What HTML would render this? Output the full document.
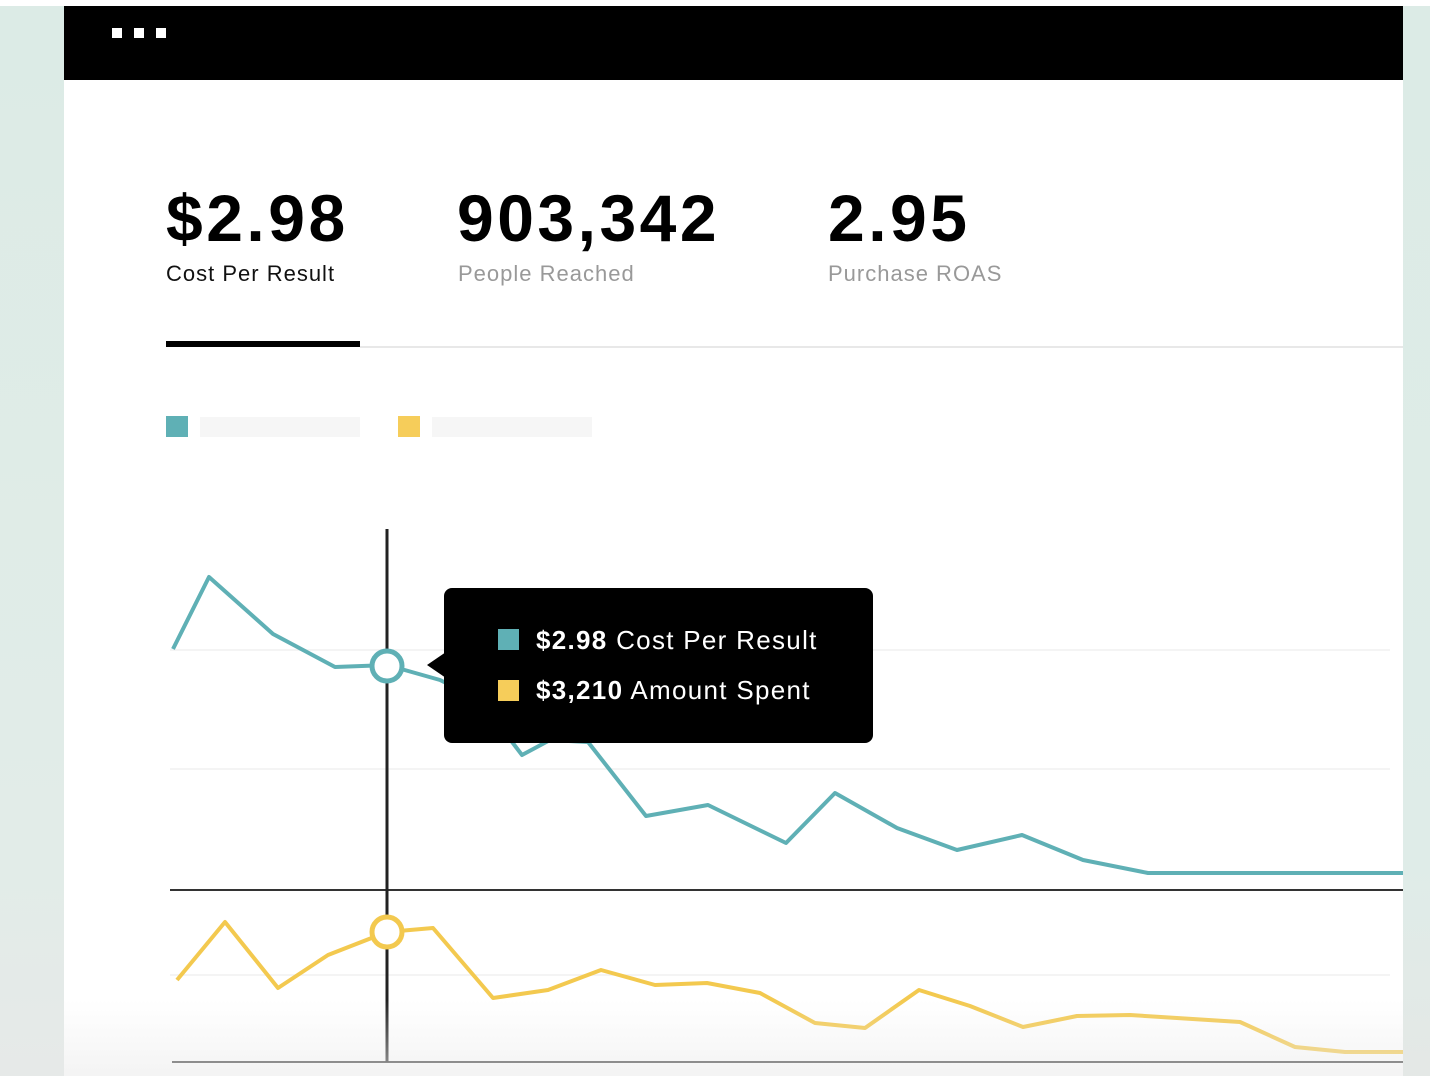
<!DOCTYPE html>
<html><head><style>
html,body{margin:0;padding:0}
body{width:1430px;height:1076px;position:relative;overflow:hidden;background:#fff;font-family:"Liberation Sans",sans-serif}
.abs{position:absolute}
.big{position:absolute;top:180px;font-weight:bold;font-size:66px;color:#000;letter-spacing:3.5px;line-height:76px}
.lbl{position:absolute;top:260px;font-size:22px;line-height:28px;letter-spacing:1px}
</style></head><body>
<div class="abs" style="left:0;top:6px;width:64px;height:1070px;background:linear-gradient(#dcebe6,#e2ece8 80%,#e6e9e8)"></div>
<div class="abs" style="left:1403px;top:6px;width:27px;height:1070px;background:linear-gradient(#dcebe6,#dfece8 80%,#e4e8e6)"></div>
<div class="abs" style="left:64px;top:6px;width:1339px;height:74px;background:#000"></div>
<div class="abs" style="left:112px;top:28px;width:10px;height:10px;background:#fff"></div>
<div class="abs" style="left:134px;top:28px;width:10px;height:10px;background:#fff"></div>
<div class="abs" style="left:156px;top:28px;width:10px;height:10px;background:#fff"></div>
<div class="big" style="left:166px">$2.98</div>
<div class="big" style="left:457px">903,342</div>
<div class="big" style="left:828px">2.95</div>
<div class="lbl" style="left:166px;color:#111">Cost Per Result</div>
<div class="lbl" style="left:458px;color:#999">People Reached</div>
<div class="lbl" style="left:828px;color:#999">Purchase ROAS</div>
<div class="abs" style="left:166px;top:341px;width:194px;height:6px;background:#000"></div>
<div class="abs" style="left:360px;top:346px;width:1043px;height:2px;background:#e8e8e8"></div>
<div class="abs" style="left:166px;top:416px;width:22px;height:21px;background:#5fb0b5"></div>
<div class="abs" style="left:200px;top:417px;width:160px;height:20px;background:#f6f6f6"></div>
<div class="abs" style="left:398px;top:416px;width:22px;height:21px;background:#f6cd5a"></div>
<div class="abs" style="left:432px;top:417px;width:160px;height:20px;background:#f6f6f6"></div>
<svg class="abs" style="left:0;top:0" width="1430" height="1076">
<g stroke="#f0f0f0" stroke-width="1.5">
<line x1="170" y1="650" x2="1390" y2="650"/><line x1="170" y1="769" x2="1390" y2="769"/><line x1="170" y1="975" x2="1390" y2="975"/>
</g>
<line x1="170" y1="890" x2="1403" y2="890" stroke="#333" stroke-width="2"/>
<line x1="172" y1="1062" x2="1403" y2="1062" stroke="#333" stroke-width="2"/>
<polyline fill="none" stroke="#5fb0b5" stroke-width="4" stroke-linejoin="round" points="173,649 209,577 273,634 335,667 387,665 440,680 480,700 522,755 550,740 588,742 646,816 708,805 786,843 835,793 897,828 957,850 1022,835 1083,860 1148,873 1403,873"/>
<polyline fill="none" stroke="#f3c94f" stroke-width="4" stroke-linejoin="round" points="177,980 225,922 278,988 328,955 387,932 433,928 493,998 548,990 601,970 655,985 707,983 760,993 815,1023 865,1028 919,990 970,1006 1023,1027 1077,1016 1130,1015 1240,1022 1295,1047 1345,1052 1403,1052"/>
<line x1="387" y1="529" x2="387" y2="1062" stroke="#222" stroke-width="3"/>
<circle cx="387" cy="666" r="15" fill="#fff" stroke="#5fb0b5" stroke-width="5"/>
<circle cx="387" cy="932" r="15" fill="#fff" stroke="#f3c94f" stroke-width="5"/>
<rect x="444" y="588" width="429" height="155" rx="8" fill="#000"/>
<polygon points="446,652 427,665 446,678" fill="#000"/>
<rect x="498" y="629" width="21" height="21" fill="#5fb0b5"/>
<rect x="498" y="680" width="21" height="21" fill="#f6cd5a"/>
<text x="536" y="649" fill="#fff" font-family="Liberation Sans" font-size="26" letter-spacing="1.3"><tspan font-weight="bold">$2.98</tspan> Cost Per Result</text>
<text x="536" y="699" fill="#fff" font-family="Liberation Sans" font-size="26" letter-spacing="1.3"><tspan font-weight="bold">$3,210</tspan> Amount Spent</text>
</svg>
<div class="abs" style="left:64px;top:1000px;width:1339px;height:76px;background:linear-gradient(rgba(240,240,240,0),rgba(236,236,236,0.6))"></div>
</body></html>
